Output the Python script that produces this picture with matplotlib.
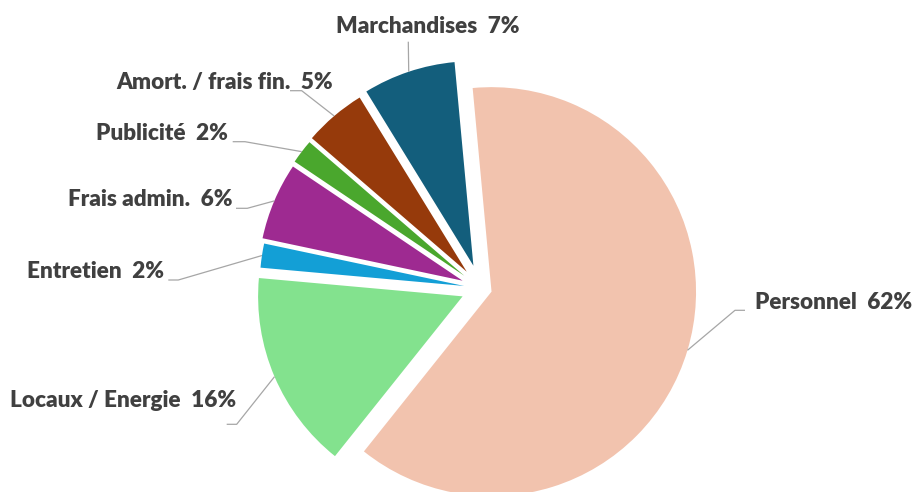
import numpy as np
import matplotlib
matplotlib.use("Agg")
import matplotlib.pyplot as plt

# ---- data ----
categories = ["Personnel", "Locaux / Energie", "Entretien", "Frais admin.",
              "Publicité", "Amort. / frais fin.", "Marchandises"]
values = [62.2, 15.7, 1.9, 6.1, 1.9, 4.9, 7.3]
colors = ["#F2C3AE", "#83E28E", "#139FD6", "#9E2A91", "#4AA72D", "#963A0B", "#135E7C"]

# ---- layout (pixel coords, y down) ----
W, H = 915, 492
center_px = (481, 288.5)
radius = 204.5
explode_px = [11, 20, 17, 20, 21, 22, 24]
# text x, text y (center), ha, leader start x, elbow x, leader y
label_layout = [
    (755, 302.7, "left", 745, 735, 310.3),
    (236, 400.7, "right", 226.7, 236.7, 424.3),
    (164, 271.7, "right", 168.3, 178.3, 280.0),
    (232.3, 200.0, "right", 236.0, 247.3, 208.3),
    (228.3, 133.0, "right", 232.7, 245.0, 141.7),
    (333.3, 83.0, "right", 290.0, 301.7, 90.7),
    (428, 26.7, "center", 408.3, 408.3, 41.7),
]

plt.rcParams['font.family'] = ['Lato', 'DejaVu Sans']
fig = plt.figure(figsize=(W / 100, H / 100), dpi=100)
ax = fig.add_axes([0, 0, 1, 1])

wedges, _ = ax.pie(values, colors=colors, startangle=95.3, counterclock=False,
                   radius=radius, center=(center_px[0], H - center_px[1]),
                   explode=explode_px,
                   wedgeprops=dict(linewidth=0, antialiased=True))
ax.set_xlim(0, W)
ax.set_ylim(0, H)
ax.set_aspect('equal')
ax.axis('off')

line_color = "#A6A6A6"
text_color = "#404040"
for w, cat, val, lay in zip(wedges, categories, values, label_layout):
    tx, ty, ha, lx0, lx1, ly = lay
    mid = np.deg2rad((w.theta1 + w.theta2) / 2)
    cx, cy = w.center
    ex = cx + w.r * np.cos(mid)
    ey = cy + w.r * np.sin(mid)
    xs = [lx0, lx1, ex]
    ys = [H - ly, H - ly, ey]
    ax.plot(xs, ys, color=line_color, lw=0.9, solid_capstyle='butt', zorder=1)
    ax.text(tx, H - ty, f"{cat}  {round(val):d}%", ha=ha, va='center',
            fontsize=16.2, fontweight='heavy', color=text_color)

fig.savefig("out.png", dpi=100)
